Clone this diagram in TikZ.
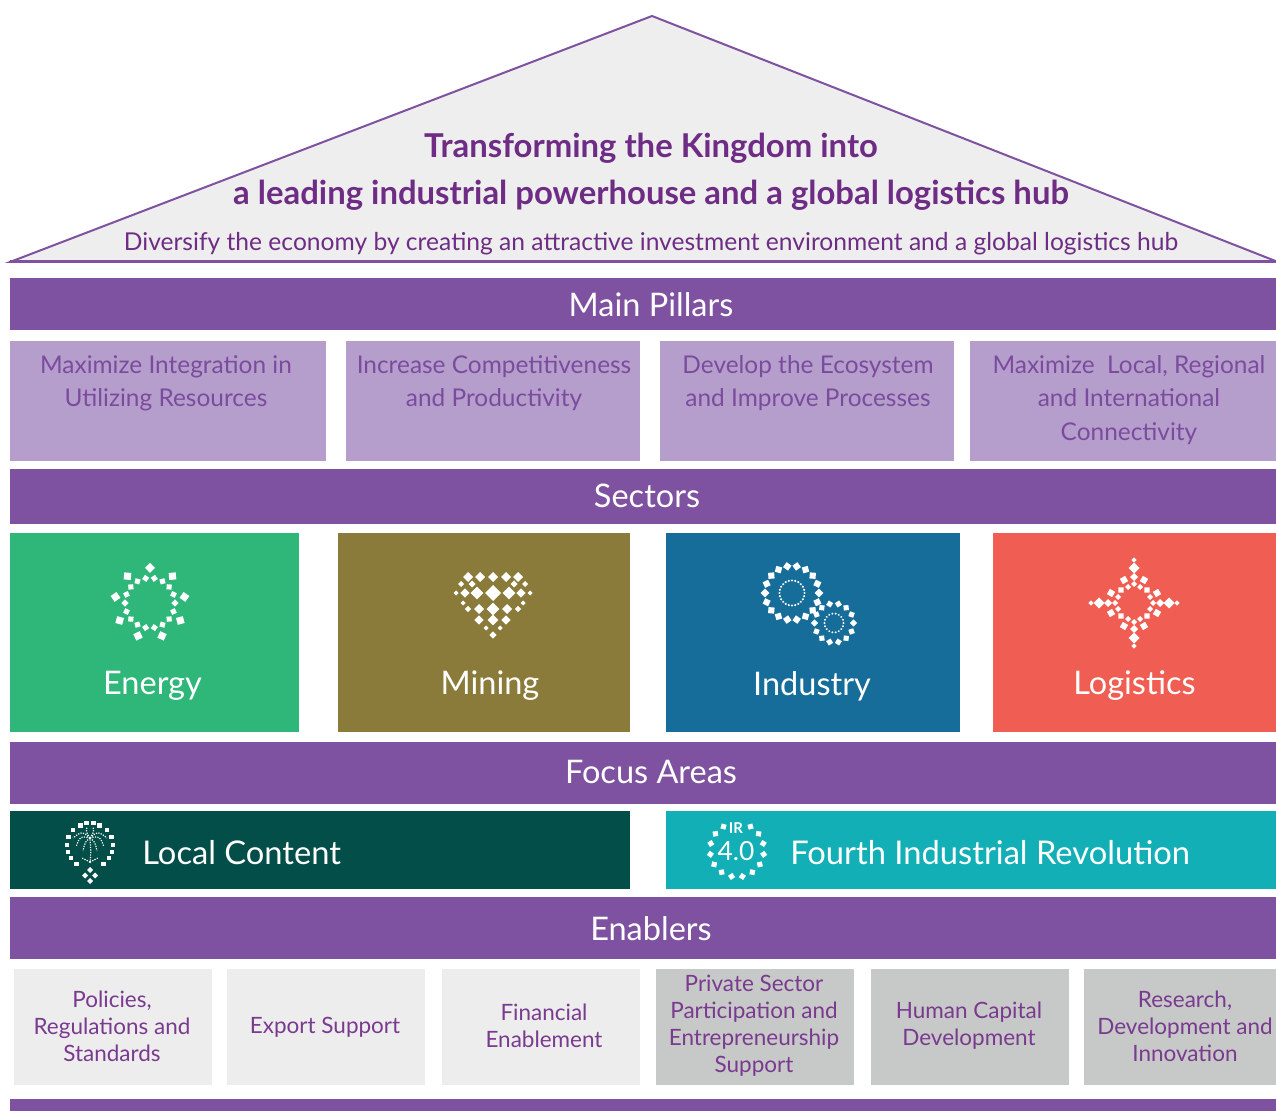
\documentclass[tikz,border=0pt]{standalone}
\usepackage{fontspec}
\setmainfont{Lato}
\definecolor{bandpurple}{HTML}{7E52A0}
\definecolor{rooffill}{HTML}{EEEEEE}
\definecolor{titlepurple}{HTML}{6E2C85}
\definecolor{pillarfill}{HTML}{B59ECB}
\definecolor{pillartext}{HTML}{7B4C9E}
\definecolor{energyc}{HTML}{2FB77A}
\definecolor{miningc}{HTML}{8A7B3A}
\definecolor{industryc}{HTML}{166D99}
\definecolor{logisticsc}{HTML}{F05D52}
\definecolor{localc}{HTML}{044E49}
\definecolor{irc}{HTML}{13AFB6}
\definecolor{enlight}{HTML}{EDEDED}
\definecolor{endark}{HTML}{C7C8C8}
\definecolor{entext}{HTML}{7A3A8F}
\newcommand\rsq[4]{\fill[white,rotate around={#4:(#1,#2)}] (#1,#2) +(-#3,0) -- +(0,#3) -- +(#3,0) -- +(0,-#3) -- cycle;}
\begin{document}
\begin{tikzpicture}[x=0.02cm,y=-0.02cm,
  bx/.style n args={2}{rectangle, inner sep=0pt, outer sep=0pt, draw=none, minimum width=#1*0.02cm, minimum height=#2*0.02cm},
  band/.style={bx={1266}{#1}, fill=bandpurple},
  bandtext/.style={text=white, font=\fontsize{18.5}{22}\selectfont, inner sep=0pt},
  pillarbox/.style={bx={#1}{120}, fill=pillarfill},
  pillartxt/.style={text=pillartext, align=center, font=\fontsize{13.9}{19}\selectfont, inner sep=0pt},
  sectorbox/.style={bx={#1}{199}},
  sectortxt/.style={text=white, font=\fontsize{18.5}{23}\selectfont, inner sep=0pt},
  focusbox/.style={bx={#1}{78}},
  focustxt/.style={text=white, font=\fontsize{18.6}{22}\selectfont, inner sep=0pt, anchor=west},
  enbox/.style={bx={198}{116}},
  entxt/.style={text=entext, align=center, font=\fontsize{12.8}{15.3}\selectfont, inner sep=0pt},
  palm/.style={white, line width=1.2*0.02cm, dash pattern=on 1.2*0.02cm off 1.3*0.02cm}
]
\useasboundingbox (0,0) rectangle (1276,1111);
\clip (0,0) rectangle (1276,1111);
\fill[white] (0,0) rectangle (1276,1111);

% roof
\draw[bandpurple, line width=0.04cm, fill=rooffill, line join=miter] (10,262) -- (652,16) -- (1278,262) -- cycle;
\draw[bandpurple, line width=0.06cm] (10,262) -- (1278,262);
\node[text=titlepurple, font=\bfseries\fontsize{18.7}{22}\selectfont, inner sep=0pt] (title1) at (651,148) {Transforming the Kingdom into};
\node[text=titlepurple, font=\bfseries\fontsize{18.7}{22}\selectfont, inner sep=0pt] (title2) at (651,195) {a leading industrial powerhouse and a global logistics hub};
\node[text=titlepurple, font=\fontsize{14}{16}\selectfont, inner sep=0pt] (subtitle) at (651,244) {Diversify the economy by creating an attractive investment environment and a global logistics hub};

% main pillars
\node[band=52] (pillarsband) at (643,304) {};
\node[bandtext] (pillarslabel) at (651,305) {Main Pillars};
\node[pillarbox=316] (p1) at (168,401) {};
\node[pillarbox=294] (p2) at (493,401) {};
\node[pillarbox=294] (p3) at (807,401) {};
\node[pillarbox=320] (p4) at (1130,401) {};
\node[pillartxt] (p1t) at (166,383) {Maximize Integration in\\Utilizing Resources};
\node[pillartxt] (p2t) at (494,383) {Increase Competitiveness\\and Productivity};
\node[pillartxt] (p3t) at (808,383) {Develop the Ecosystem\\and Improve Processes};
\node[pillartxt] (p4t) at (1129,400) {Maximize\ \ Local, Regional\\and International\\Connectivity};

% sectors
\node[band=55] (sectorsband) at (643,496.5) {};
\node[bandtext] (sectorslabel) at (647,496) {Sectors};
\node[sectorbox=289, fill=energyc] (energy) at (154.5,632.5) {};
\node[sectorbox=292, fill=miningc] (mining) at (484,632.5) {};
\node[sectorbox=294, fill=industryc] (industry) at (813,632.5) {};
\node[sectorbox=290, fill=logisticsc] (logistics) at (1138,632.5) {};
\node[sectortxt] (energyt) at (152.5,686) {Energy};
\node[sectortxt] (miningt) at (490,686) {Mining};
\node[sectortxt] (industryt) at (812,686) {Industry};
\node[sectortxt] (logisticst) at (1134.5,686) {Logistics};

% energy icon
\begin{scope}[shift={(150,603)}]
  \foreach \a in {90,130,...,410} {\fill[white,rotate=\a] (35,0) +(-5,0) -- +(0,5) -- +(5,0) -- +(0,-5) -- cycle;}
  \foreach \a in {100,120,...,440} {\fill[white,rotate=\a] (25,0) +(-3.6,0) -- +(0,3.6) -- +(3.6,0) -- +(0,-3.6) -- cycle;}
\end{scope}

% mining icon
\foreach \x in {468,480,493,506,518} {\rsq{\x}{577}{5}{0}}
\rsq{461}{584}{3}{0} \rsq{472}{584}{3.5}{0} \rsq{514}{584}{3.5}{0} \rsq{525}{584}{3}{0}
\rsq{456}{593}{2.5}{0} \rsq{465}{593}{4.7}{0} \rsq{477}{593}{6.3}{0} \rsq{493}{593}{8}{0}
\rsq{509}{593}{6.3}{0} \rsq{521}{593}{4.7}{0} \rsq{530}{593}{2.5}{0}
\rsq{463}{603}{2.5}{0} \rsq{523}{603}{2.5}{0}
\rsq{468}{609}{3.2}{0} \rsq{479}{609}{5}{0} \rsq{493}{609}{6.3}{0} \rsq{507}{609}{5}{0} \rsq{518}{609}{3.2}{0}
\rsq{479}{620}{4.7}{0} \rsq{493}{620}{5.3}{0} \rsq{506}{620}{4.7}{0}
\rsq{486}{628}{2.5}{0} \rsq{500}{628}{2.5}{0}
\rsq{493}{635}{3.7}{0}

% industry icon
\begin{scope}[shift={(792,593)}]
  \foreach \a in {0,20,...,340} {\fill[white,rotate=\a] (27,0) +(-4.3,0) -- +(0,4.3) -- +(4.3,0) -- +(0,-4.3) -- cycle;}
  \foreach \a in {0,15,...,345} {\fill[white,rotate=\a] (12.5,0) circle (1.2);}
\end{scope}
\begin{scope}[shift={(834,623)}]
  \foreach \k in {0,...,13} {\fill[white,rotate=\k*360/14] (19.5,0) +(-3.6,0) -- +(0,3.6) -- +(3.6,0) -- +(0,-3.6) -- cycle;}
  \foreach \a in {0,20,...,340} {\fill[white,rotate=\a] (9.5,0) circle (1.1);}
\end{scope}

% logistics icon
\begin{scope}[shift={(1134,603)}]
  \foreach \r in {0,90,180,270} {
    \begin{scope}[rotate=\r]
      \rsq{43}{0}{2.6}{0} \rsq{35}{0}{5.5}{0} \rsq{26}{0}{4}{0} \rsq{19}{0}{3}{0}
      \rsq{23}{10}{4.3}{15} \rsq{10}{23}{4.3}{75} \rsq{16}{6}{3}{0} \rsq{6}{16}{3}{0} \rsq{13}{13}{3.6}{45}
    \end{scope}
  }
\end{scope}

% focus areas
\node[band=62] (focusband) at (643,773) {};
\node[bandtext] (focuslabel) at (651,772) {Focus Areas};
\node[focusbox=620, fill=localc] (local) at (320,850) {};
\node[focusbox=610, fill=irc] (ir) at (971,850) {};
\node[focustxt] (localt) at (142,853) {Local Content};
\node[focustxt] (irt) at (790,853) {Fourth Industrial Revolution};

% local content icon
\foreach \dx/\y in {3.3/823, 9.8/825.5, 17/830, 21.5/837, 23/845, 22/852, 19/858, 13.5/864} {
  \rsq{90-\dx}{\y}{3.3}{45} \rsq{90+\dx}{\y}{3.3}{45}
}
\rsq{90}{870}{3}{0} \rsq{85}{875.5}{3}{0} \rsq{95}{875.5}{3}{0} \rsq{90}{881}{3}{0}
\draw[palm] (90,863) .. controls (91,852) .. (90,839);
\draw[palm] (90,838) .. controls (82,831) .. (73,838);
\draw[palm] (90,838) .. controls (80,836) .. (76,847);
\draw[palm] (90,838) .. controls (85,842) .. (83,851);
\draw[palm] (90,838) .. controls (98,831) .. (107,838);
\draw[palm] (90,838) .. controls (100,836) .. (104,847);
\draw[palm] (90,838) .. controls (95,842) .. (97,851);
\draw[palm] (90,838) .. controls (86,832) .. (87,827);
\draw[palm] (90,838) .. controls (94,832) .. (93,827);
\draw[palm] (90,862) -- (82,858);
\draw[palm] (90,862) -- (98,858);

% IR icon
\begin{scope}[shift={(737,850)}]
  \foreach \k in {0,...,13} {\fill[white,rotate=60-\k*23.08] (27,0) +(-3.6,0) -- +(0,3.6) -- +(3.6,0) -- +(0,-3.6) -- cycle;}
\end{scope}
\node[text=white, font=\bfseries\fontsize{8.5}{10}\selectfont, inner sep=0pt] (irlabel) at (736,828) {IR};
\node[text=white, font=\fontsize{15}{18}\selectfont, inner sep=0pt] (irnum) at (736,851) {4.0};

% enablers
\node[band=62] (enband) at (643,928) {};
\node[bandtext] (enlabel) at (651,929) {Enablers};
\node[enbox, fill=enlight] (e1) at (113,1027) {};
\node[enbox, fill=enlight] (e2) at (326,1027) {};
\node[enbox, fill=enlight] (e3) at (541,1027) {};
\node[enbox, fill=endark] (e4) at (755,1027) {};
\node[enbox, fill=endark] (e5) at (970,1027) {};
\node[enbox, fill=endark] (e6) at (1183,1027) {};
\node[entxt] (e1t) at (112,1026) {Policies,\\Regulations and\\Standards};
\node[entxt] (e2t) at (325,1027) {Export Support};
\node[entxt] (e3t) at (544,1026) {Financial\\Enablement};
\node[entxt] (e4t) at (754,1026) {Private Sector\\Participation and\\Entrepreneurship\\Support};
\node[entxt] (e5t) at (969,1026) {Human Capital\\Development};
\node[entxt] (e6t) at (1185,1026) {Research,\\Development and\\Innovation};

\node[band=20] (bottomband) at (643,1109) {};
\end{tikzpicture}
\end{document}
